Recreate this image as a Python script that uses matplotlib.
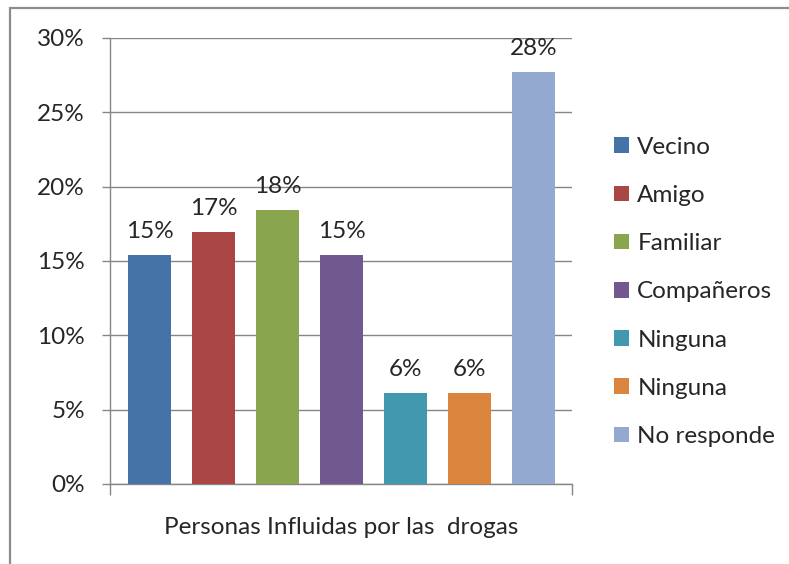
import matplotlib
matplotlib.use("Agg")
import matplotlib.pyplot as plt
from matplotlib.patches import Rectangle
from matplotlib.ticker import FuncFormatter, MultipleLocator

categories = ["Vecino", "Amigo", "Familiar", "Compañeros", "Ninguna", "Ninguna", "No responde"]
values = [0.1538, 0.1692, 0.1846, 0.1538, 0.0615, 0.0615, 0.2769]
colors = ["#4572A7", "#AA4643", "#89A54E", "#71588F", "#4198AF", "#DB843D", "#93A9CF"]
xlabel = "Personas Influidas por las  drogas"

W, H = 789, 564
FS = 17.5
plt.rcParams["font.family"] = ["Lato", "DejaVu Sans"]
fig = plt.figure(figsize=(W / 100, H / 100), dpi=100)

# outer chart frame (left and top edges visible)
fig.patches.append(
    Rectangle((10 / W, -0.1), 1.2, (564 - 8) / H + 0.1, transform=fig.transFigure,
              fill=False, edgecolor="#8c8c8c", linewidth=1.6)
)

ax = fig.add_axes([110 / W, (H - 484) / H, 462 / W, 446 / H])
grid_c = "#868686"
text_c = "#262626"

bars = []
for i, (cat, val, col) in enumerate(zip(categories, values, colors)):
    b = ax.bar(i, val, width=0.67, color=col, label=cat, zorder=3)
    bars.append(b)
    ax.annotate(f"{val:.0%}", (i, val), xytext=(0, 13), textcoords="offset pixels",
                ha="center", va="bottom", fontsize=FS, color=text_c)

ax.set_ylim(0, 0.30)
ax.set_xlim(-0.617, 6.6)
ax.yaxis.set_major_locator(MultipleLocator(0.05))
ax.yaxis.set_major_formatter(FuncFormatter(lambda v, _: f"{v * 100:.0f}%"))
ax.grid(axis="y", color=grid_c, linewidth=1, zorder=0)
ax.set_xticks([-0.617, 6.6])
ax.set_xticklabels([])
ax.tick_params(axis="x", length=8, color=grid_c, width=1)
ax.tick_params(axis="y", length=6, color=grid_c, width=1, labelsize=FS,
               labelcolor=text_c, pad=12)
for side in ["top", "right"]:
    ax.spines[side].set_visible(False)
for side in ["left", "bottom"]:
    ax.spines[side].set_color(grid_c)
    ax.spines[side].set_linewidth(1)

fig.text(341 / W, 1 - 527 / H, xlabel, ha="center", va="center",
         fontsize=FS, color=text_c)

leg = fig.legend(handles=[b[0] for b in bars], labels=categories,
                 loc="upper left", bbox_to_anchor=(604 / W, 1 - 127 / H),
                 frameon=False, fontsize=FS, handlelength=0.62, handleheight=0.62,
                 handletextpad=0.35, labelspacing=1.12, borderaxespad=0)
for t in leg.get_texts():
    t.set_color(text_c)

fig.savefig("out.png", dpi=100)
